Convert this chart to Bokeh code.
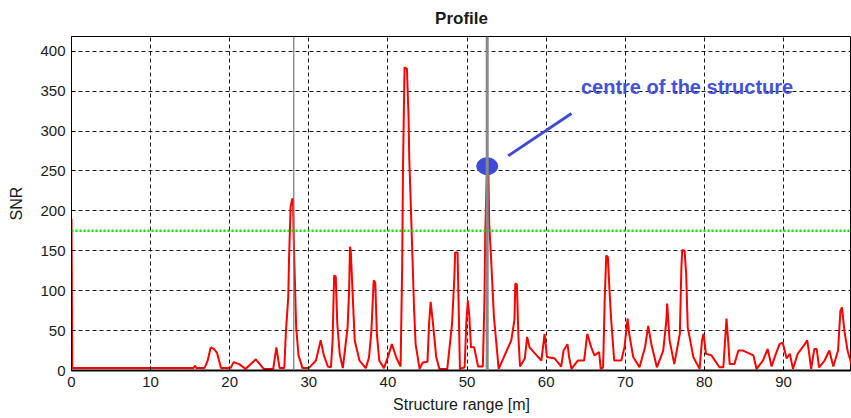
from bokeh.plotting import figure
from bokeh.models import Range1d, Span, FixedTicker, Title
from bokeh.core.properties import value
from bokeh.embed import file_html
from bokeh.resources import INLINE

# ---- data ----
range_m = [0, 0.1, 15.4, 15.6, 15.8, 16.8, 17.2, 17.6, 18.0, 18.4, 18.9, 20.1, 20.5, 21.2, 22.0,
           23.3, 24.3, 25.5, 25.9, 26.3, 26.9, 27.1, 27.4, 27.5, 27.7, 27.9, 28.0, 28.1, 28.4,
           28.7, 29.2, 30.0, 30.9, 31.5, 31.9, 32.4, 32.8, 33.0, 33.2, 33.4, 33.6, 33.9, 34.3,
           34.9, 35.1, 35.2, 35.3, 35.5, 35.8, 36.4, 37.2, 37.6, 37.9, 38.2, 38.4, 38.6, 38.9,
           39.5, 40.0, 40.5, 41.1, 41.6, 41.8, 41.9, 42.1, 42.4, 42.6, 42.7, 42.9, 43.1, 43.3,
           43.5, 44.0, 44.4, 45.0, 45.2, 45.4, 45.7, 46.1, 46.5, 47.5, 48.1, 48.4, 48.5, 48.8,
           48.9, 49.1, 49.7, 49.9, 50.1, 50.3, 50.5, 50.9, 51.4, 52.0, 52.2, 52.3, 52.5, 52.7,
           52.8, 53.0, 53.4, 54.0, 55.6, 56.0, 56.1, 56.3, 56.5, 56.7, 57.3, 57.6, 57.9, 58.8,
           59.4, 59.8, 60.1, 61.1, 61.9, 62.2, 62.7, 62.9, 63.2, 64.0, 64.8, 65.2, 65.7, 66.1,
           66.7, 66.9, 67.2, 67.4, 67.6, 67.8, 68.0, 68.2, 68.6, 69.5, 69.9, 70.3, 70.5, 71.0,
           71.8, 72.5, 72.9, 73.3, 74.0, 74.8, 75.2, 75.3, 75.6, 76.2, 76.9, 77.1, 77.2, 77.5,
           77.7, 77.9, 78.6, 79.4, 79.7, 79.9, 80.2, 80.9, 81.9, 82.4, 82.8, 83.0, 83.2, 83.8,
           84.3, 84.9, 86.2, 86.6, 87.4, 88.0, 88.5, 88.9, 89.5, 89.9, 90.4, 90.8, 91.2, 91.8,
           92.7, 93.0, 93.2, 93.5, 93.9, 94.2, 94.5, 95.2, 95.8, 96.3, 96.9, 97.2, 97.4, 97.7,
           98.1, 98.7]
snr = [190, 3, 3, 6, 3, 3, 12, 29, 27, 22, 3, 3, 10.5, 8, 2,
       14, 2, 2, 29, 3, 3, 48, 92, 140, 205, 215, 215, 163, 54,
       19, 3, 3, 12.5, 38, 19, 5, 4, 37, 119, 118, 58, 21, 3,
       54, 102, 155, 150, 105, 38, 12.5, 3, 16, 48, 113, 110, 46, 12.5,
       3, 17, 33, 15, 5, 130, 250, 380, 378, 320, 265, 205, 142, 79,
       33, 2, 10, 11, 58, 86, 58, 17, 2, 2, 58, 117, 148, 148,
       100, 2, 4, 58, 88, 67, 29, 29, 5, 5, 88, 171, 245, 250,
       184, 148, 67, 2, 38, 64, 109, 108, 41, 5, 15, 42, 29, 19,
       12.5, 46, 17, 15, 5, 25, 33, 17, 2, 12.5, 12.5, 46, 29, 19,
       23, 2, 4, 88, 144, 142, 102, 67, 12.5, 12.5, 29, 65, 46, 17,
       4, 29, 56, 33, 4, 25, 63, 84, 38, 8, 46, 130, 151, 150,
       121, 54, 17, 2, 38, 46, 21, 19, 4, 4, 65, 38, 8, 8,
       25, 25, 19, 2, 12.5, 27, 5, 17, 33, 35, 15, 21, 2, 21,
       33, 38, 25, 2, 27, 27, 4, 12.5, 25, 5, 25, 75, 79, 50,
       25, 4]

threshold = 175
marker_lines_x = [28.1, 52.55]
centre_point = [52.55, 256]
connector_x = [55.2, 63.2]
connector_y = [269, 322]
note_pos = [64.4, 355]
note_text = "centre of the structure"
title_text = "Profile"
x_ticks = [0, 10, 20, 30, 40, 50, 60, 70, 80, 90]
y_ticks = [0, 50, 100, 150, 200, 250, 300, 350, 400]

FONT = "Liberation Sans"

p = figure(width=851, height=418, output_backend="svg", toolbar_location=None,
           x_range=Range1d(0, 98.6), y_range=Range1d(0, 418.5),
           min_border_left=71, min_border_right=0, min_border_top=36, min_border_bottom=48)
p.title = None
# small spacer between the frame and the title
p.add_layout(Title(text=" ", text_font_size="2px", standoff=0), "above")
p.add_layout(Title(text=title_text, align="center", text_font=FONT, text_font_size="17px",
                   text_font_style="bold", text_color="#1a1a1a"), "above")

p.background_fill_color = "white"
p.border_fill_color = "white"
p.outline_line_color = "black"
p.outline_line_width = 1

for ax in (p.xaxis[0], p.yaxis[0]):
    ax.axis_line_color = "black"
    ax.major_tick_in = 4
    ax.major_tick_out = 0
    ax.minor_tick_in = 0
    ax.minor_tick_out = 0
    ax.major_label_text_font = FONT
    ax.major_label_text_font_size = "15px"
    ax.major_label_text_color = "#1a1a1a"
    ax.axis_label_text_font = FONT
    ax.axis_label_text_font_size = "16px"
    ax.axis_label_text_font_style = "normal"
    ax.axis_label_text_color = "#1a1a1a"

p.xaxis.ticker = FixedTicker(ticks=x_ticks)
p.yaxis.ticker = FixedTicker(ticks=y_ticks)
p.xaxis.axis_label = "Structure range [m]"
p.yaxis.axis_label = "SNR"
p.xaxis.major_label_standoff = 6
p.xaxis.axis_label_standoff = 6
p.yaxis.major_label_standoff = 6
p.yaxis.axis_label_standoff = 12
p.xaxis.axis_line_width = 2

for g in (p.xgrid[0], p.ygrid[0]):
    g.grid_line_color = "black"
    g.grid_line_dash = "4 3"
    g.grid_line_width = 1
    g.grid_line_alpha = 0.9

# threshold
p.add_layout(Span(location=threshold, dimension="width", line_color="#00e000",
                  line_width=2.5, line_dash="2 2"))

# SNR profile
p.line(range_m, snr, line_color="#ff0000", line_width=2)

# vertical markers
p.add_layout(Span(location=marker_lines_x[0], dimension="height", line_color="#777777", line_width=1.2))
p.add_layout(Span(location=marker_lines_x[1], dimension="height", line_color="#888888", line_width=3))

# annotation
p.line(connector_x, connector_y, line_color="#3f4bd6", line_width=3)
p.ellipse(x=[centre_point[0]], y=[centre_point[1]], width=21, height=17,
          width_units="screen", height_units="screen",
          fill_color="#3f4bd6", line_color="#3f4bd6")
p.text(x=[note_pos[0]], y=[note_pos[1]], text=[note_text],
       text_font=value(FONT), text_font_size="20px", text_font_style="bold",
       text_color="#4452d8", text_baseline="middle", text_align="left")

open("out.html", "w").write(file_html(p, INLINE))
